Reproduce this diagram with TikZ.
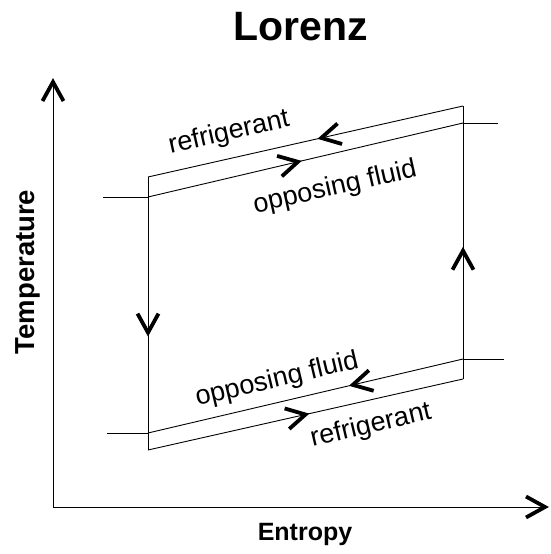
\documentclass[tikz,border=0pt]{standalone}
\usepackage{fontspec}
\setmainfont{Liberation Sans}
\usetikzlibrary{decorations.markings}
\tikzset{
  flow/.style={postaction={decorate},
    decoration={markings,mark=at position #1 with {
      \draw[line width=3.8pt, line join=miter] (-19pt,10.5pt) -- (0pt,0pt) -- (-19pt,-10.5pt);}}},
  lbl/.style={font=\fontsize{27}{30}\selectfont, inner sep=0pt},
  axlbl/.style={font=\bfseries\fontsize{25}{30}\selectfont, inner sep=0pt},
}
\begin{document}
\begin{tikzpicture}[x=1pt,y=-1pt,line width=0.9pt]
      \useasboundingbox (0,0) rectangle (550,554);
      % axes
      \coordinate (o) at (53, 507);
      \coordinate (ytip) at (53, 82);
      \coordinate (xtip) at (545, 507);
      \draw[flow=1] (o) -- (ytip);
      \draw[flow=1] (o) -- (xtip);
      \node[font=\bfseries\fontsize{41}{44}\selectfont] (title) at (301, 27) {Lorenz};
      \node[axlbl] (xlbl) at (305, 534) {Entropy};
      \node[axlbl, font=\bfseries\fontsize{27.5}{30}\selectfont, rotate=90] (ylbl) at (28, 272) {Temperature};
      % cycle corners
      \coordinate (p1) at (148, 177);
      \coordinate (p2) at (463, 106);
      \coordinate (p3) at (148, 197);
      \coordinate (p4) at (463, 123);
      \coordinate (p5) at (148, 433);
      \coordinate (p6) at (463, 359);
      \coordinate (p7) at (148, 450);
      \coordinate (p8) at (463, 379);
      \coordinate (s1) at (103, 197);
      \coordinate (s2) at (498, 123);
      \coordinate (s3) at (107, 433);
      \coordinate (s4) at (504, 359);
      % refrigerant
      \draw[flow=0.45] (p2) -- (p1);
      \draw[flow=0.57] (p1) -- (p7);
      \draw[flow=0.5] (p7) -- (p8);
      \draw[flow=0.47] (p8) -- (p2);
      % opposing fluid
      \draw (s1) -- (p3);
      \draw[flow=0.476] (p3) -- (p4);
      \draw (p4) -- (s2);
      \draw (s4) -- (p6);
      \draw[flow=0.35] (p6) -- (p5);
      \draw (p5) -- (s3);
      % labels
      \node[lbl, rotate=12.7] (r1) at (229, 133) {refrigerant};
      \node[lbl, rotate=12.7] (f1) at (335, 188) {opposing fluid};
      \node[lbl, rotate=13.3] (f2) at (277, 380) {opposing fluid};
      \node[lbl, rotate=13.3] (r2) at (371, 426) {refrigerant};
\end{tikzpicture}
\end{document}
